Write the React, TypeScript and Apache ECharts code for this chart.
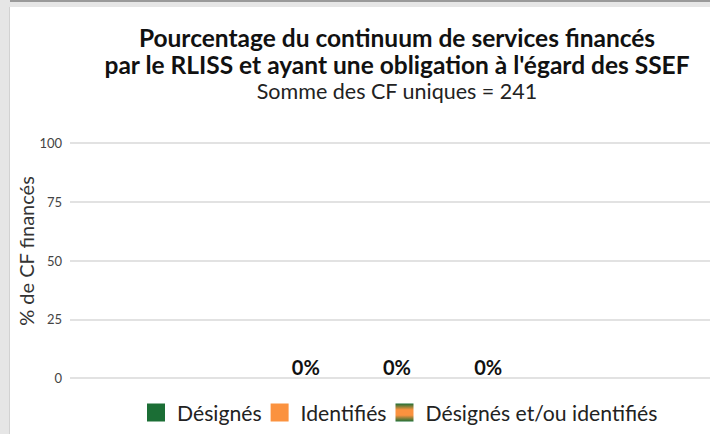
import React, { useEffect, useRef } from "react";
import * as echarts from "echarts";

const categories = ["RLISS"];
const seriesNames = ["Désignés", "Identifiés", "Désignés et/ou identifiés"];
const seriesValues = [[0], [0], [0]];
const yTicks = [0, 25, 50, 75, 100];
const yAxisName = "% de CF financés";

const GREEN = "#1b6e35";
const ORANGE = "#fb923f";

export default function App() {
  const ref = useRef<HTMLDivElement>(null);
  useEffect(() => {
    document.body.style.margin = "0";
    const chart = echarts.init(ref.current!, null, { renderer: "svg" });
    const gradient = new echarts.graphic.LinearGradient(0, 0, 0, 1, [
      { offset: 0, color: GREEN },
      { offset: 0.35, color: ORANGE },
      { offset: 0.65, color: ORANGE },
      { offset: 1, color: GREEN },
    ]);
    const colors = [GREEN, ORANGE, gradient];
    chart.setOption({
      animation: false,
      backgroundColor: "#ffffff",
      textStyle: { fontFamily: "Lato" },
      title: {
        text: "Pourcentage du continuum de services financés\npar le RLISS et ayant une obligation à l'égard des SSEF",
        subtext: "Somme des CF uniques = 241",
        left: 397,
        top: 24,
        textAlign: "center",
        itemGap: 0,
        padding: 0,
        textStyle: { fontSize: 24.5, fontWeight: "bold", color: "#111", lineHeight: 27, fontFamily: "Lato" },
        subtextStyle: { fontSize: 21.5, color: "#222", lineHeight: 26, fontFamily: "Lato" },
      },
      graphic: [
        { type: "rect", shape: { x: 0, y: 0, width: 724, height: 7 }, style: { fill: "#e6e6e6" }, z: 100 },
        { type: "rect", shape: { x: 0, y: 0, width: 9, height: 434 }, style: { fill: "#e6e6e6" }, z: 100 },
        { type: "rect", shape: { x: 10, y: 0, width: 714, height: 2 }, style: { fill: "#9a9a9a" }, z: 101 },
        { type: "line", shape: { x1: 9.5, y1: 7, x2: 9.5, y2: 434 }, style: { stroke: "#d2d2d2", lineWidth: 1 }, z: 101 },
        {
          type: "text",
          x: 26,
          y: 251,
          rotation: Math.PI / 2,
          style: {
            text: yAxisName,
            fontSize: 20,
            fill: "#333",
            fontFamily: "Lato",
            align: "center",
            verticalAlign: "middle",
          },
        },
      ],
      legend: {
        top: 402,
        left: 147,
        padding: 0,
        itemWidth: 18,
        itemHeight: 18,
        itemGap: 9,
        icon: "rect",
        textStyle: { fontSize: 21.2, color: "#222", fontFamily: "Lato", padding: [0, 0, 0, 7] },
        data: seriesNames,
      },
      grid: { left: 70, right: 0, top: 143, bottom: 56, containLabel: false },
      xAxis: {
        type: "category",
        data: categories,
        axisLine: { show: false },
        axisTick: { show: false },
        axisLabel: { show: false },
      },
      yAxis: {
        type: "value",
        min: yTicks[0],
        max: yTicks[yTicks.length - 1],
        interval: 25,
        axisLabel: { fontSize: 13, color: "#444", margin: 8, fontFamily: "Lato" },
        axisLine: { show: false },
        axisTick: { show: false },
        splitLine: { lineStyle: { color: "#d9d9d9", width: 1.5 } },
      },
      series: seriesNames.map((name, i) => ({
        name,
        type: "bar",
        data: seriesValues[i],
        barWidth: 60,
        barGap: "52%",
        itemStyle: { color: colors[i] },
        label: {
          show: true,
          position: "top",
          distance: 1,
          formatter: (p: any) => p.value + "%",
          fontSize: 20,
          fontWeight: "bold",
          color: "#111",
          fontFamily: "Lato",
        },
      })),
    });
    return () => chart.dispose();
  }, []);
  return (
    <div style={{ position: "fixed", left: 0, top: 0, width: 710, height: 434, overflow: "hidden" }}>
      <div ref={ref} style={{ width: 724, height: 434 }} />
    </div>
  );
}
